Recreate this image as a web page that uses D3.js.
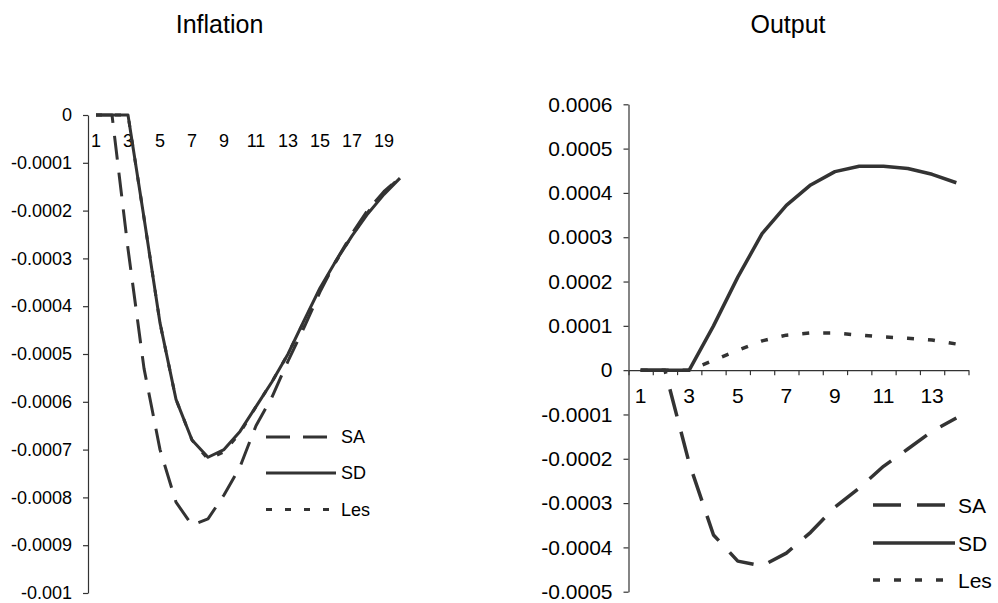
<!DOCTYPE html>
<html>
<head>
<meta charset="utf-8">
<script src="https://cdn.jsdelivr.net/npm/d3@7"></script>
<style>
  html, body { margin: 0; padding: 0; background: #fff; }
  svg { display: block; }
  text { font-family: Arial, "Liberation Sans", sans-serif; fill: #000; }
</style>
</head>
<body>
<svg id="chart" width="998" height="603"></svg>
<script>
// ---------- DATA ----------
const seriesNames = ["SA", "SD", "Les"];

// Inflation panel: periods 1..20
const inflPeriods = d3.range(1, 21);
const inflSA  = [0, 0, -0.00028, -0.00053, -0.00070, -0.00081, -0.000858, -0.000845, -0.000795, -0.000736, -0.00065, -0.00059, -0.000515, -0.000445, -0.00037, -0.000305, -0.000248, -0.000198, -0.00016, -0.00013];
const inflSD  = [0, 0, 0, -0.000215, -0.000435, -0.000595, -0.00068, -0.000716, -0.00070, -0.000662, -0.00061, -0.000558, -0.00050, -0.00043, -0.000362, -0.000305, -0.000253, -0.000206, -0.000166, -0.000132];
const inflLes = [0, 0, 0, -0.000215, -0.000435, -0.000595, -0.00068, -0.00072, -0.000705, -0.000665, -0.00061, -0.000558, -0.00050, -0.000432, -0.000365, -0.000307, -0.000252, -0.000203, -0.000163, -0.00013];
const inflYTicks = [0, -0.0001, -0.0002, -0.0003, -0.0004, -0.0005, -0.0006, -0.0007, -0.0008, -0.0009, -0.001];
const inflXLabels = [1, 3, 5, 7, 9, 11, 13, 15, 17, 19];

// Output panel: periods 1..14
const outPeriods = d3.range(1, 15);
const outSA  = [0, 0, -0.00021, -0.000372, -0.000431, -0.000442, -0.000413, -0.000366, -0.000309, -0.000266, -0.000217, -0.000178, -0.000138, -0.000108];
const outSD  = [0, 0, 0, 0.00010, 0.00021, 0.000308, 0.000372, 0.000418, 0.000448, 0.00046, 0.00046, 0.000455, 0.000442, 0.000423];
const outLes = [0, 0, 0, 0.000022, 0.000045, 0.000066, 0.000079, 0.000084, 0.000084, 0.000079, 0.000075, 0.000072, 0.000068, 0.000059];
const outYTicks = [0.0006, 0.0005, 0.0004, 0.0003, 0.0002, 0.0001, 0, -0.0001, -0.0002, -0.0003, -0.0004, -0.0005];
const outXLabels = [1, 3, 5, 7, 9, 11, 13];

// ---------- DRAW ----------
const svg = d3.select("#chart");
const ink = "#333333";
const fmt = v => v === 0 ? "0" : String(+v.toFixed(4));

function panel(cfg) {
  const g = svg.append("g");
  const x = d3.scaleBand().domain(cfg.periods).range(cfg.xRange).paddingInner(0).paddingOuter(0);
  const y = d3.scaleLinear().domain(cfg.yDomain).range(cfg.yRange);
  const cx = d => x(d) + x.bandwidth() / 2;

  // title
  g.append("text").attr("x", cfg.titleX).attr("y", 33)
    .attr("text-anchor", "middle").style("font-size", "25px").text(cfg.title);

  // y axis
  const ya = g.append("g").attr("transform", `translate(${cfg.xRange[0]},0)`)
    .call(d3.axisLeft(y).tickValues(cfg.yTicks).tickFormat(fmt).tickSize(5).tickSizeOuter(0).tickPadding(cfg.yPad));
  ya.select(".domain").attr("stroke", ink).attr("stroke-width", 1.2);
  ya.selectAll(".tick line").attr("stroke", ink).attr("stroke-width", 1.2);
  ya.selectAll(".tick text").style("font-size", cfg.fs + "px").attr("fill", "#000");

  // x axis at zero
  const y0 = y(0);
  if (cfg.showXLine) {
    const lin = d3.scaleLinear().domain([0, cfg.periods.length]).range(cfg.xRange);
    const xt = g.append("g").attr("transform", `translate(0,${y0})`)
      .call(d3.axisBottom(lin).tickValues(d3.range(cfg.periods.length + 1)).tickFormat("").tickSize(5).tickSizeOuter(0));
    xt.select(".domain").attr("stroke", ink).attr("stroke-width", 1.2);
    xt.selectAll(".tick line").attr("stroke", ink).attr("stroke-width", 1.2);
  }
  const xa = g.append("g").attr("transform", `translate(0,${y0})`)
    .call(d3.axisBottom(x).tickValues(cfg.xLabels).tickSize(0).tickPadding(cfg.xPad));
  xa.select(".domain").remove();
  xa.selectAll(".tick text").style("font-size", cfg.fs + "px").attr("fill", "#000");

  // lines
  const line = d3.line().x((d, i) => cx(cfg.periods[i])).y(d => y(d));
  const styles = cfg.dashes;
  cfg.series.forEach((s, k) => {
    g.append("path").datum(s)
      .attr("d", line).attr("fill", "none").attr("stroke", ink)
      .attr("stroke-width", cfg.sw).attr("stroke-dasharray", styles[k])
      .attr("stroke-linejoin", "round");
  });

  // legend
  seriesNames.forEach((name, k) => {
    const ly = cfg.legY[k];
    g.append("line").attr("x1", cfg.legX[0]).attr("x2", cfg.legX[1])
      .attr("y1", ly).attr("y2", ly).attr("stroke", ink)
      .attr("stroke-width", cfg.sw).attr("stroke-dasharray", styles[k]);
    g.append("text").attr("x", cfg.legX[1] + cfg.legGap).attr("y", ly).attr("dy", "0.36em")
      .style("font-size", cfg.fs + "px").text(name);
  });
}

panel({
  title: "Inflation", titleX: 219.5,
  periods: inflPeriods, xRange: [88, 408],
  yDomain: [-0.001, 0], yRange: [593, 115], yTicks: inflYTicks, yPad: 11,
  xLabels: inflXLabels, xPad: 19, showXLine: false,
  series: [inflSA, inflSD, inflLes], fs: 18, sw: 3,
  dashes: ["24,13", null, "6,13"],
  legX: [266, 336], legY: [437, 473, 509.5], legGap: 5
});

panel({
  title: "Output", titleX: 788,
  periods: outPeriods, xRange: [628.5, 968.5],
  yDomain: [-0.0005, 0.0006], yRange: [591.7, 104.3], yTicks: outYTicks, yPad: 11,
  xLabels: outXLabels, xPad: 17.5, showXLine: true,
  series: [outSA, outSD, outLes], fs: 21, sw: 3.5,
  dashes: ["28,16", null, "7,14"],
  legX: [873, 955], legY: [505, 543, 580], legGap: 3
});
</script>
</body>
</html>
